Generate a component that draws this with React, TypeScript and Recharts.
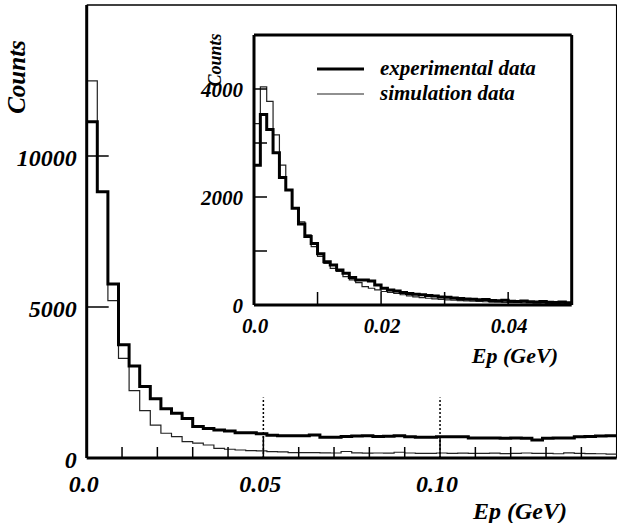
import React from 'react'
import { LineChart, Line, XAxis, YAxis, ReferenceLine } from 'recharts'

// main histogram: 50 bins of 0.003 GeV
const mainBinWidth = 0.003
const mainExp = [
  11130, 8820, 5760, 3750, 3050, 2370, 1960, 1630, 1480, 1310,
  1040, 980, 930, 890, 840, 840, 800, 750, 740, 740,
  740, 760, 690, 690, 710, 730, 740, 710, 720, 740,
  700, 690, 690, 700, 700, 700, 660, 660, 660, 650,
  660, 650, 600, 650, 660, 660, 700, 710, 730, 740,
]
const mainSim = [
  12490, 8800, 5210, 3300, 2230, 1570, 1090, 820, 710, 540,
  490, 430, 320, 290, 265, 245, 235, 210, 200, 180,
  180, 175, 170, 165, 215, 170, 160, 165, 160, 190,
  165, 150, 155, 165, 150, 160, 150, 155, 160, 145,
  150, 165, 150, 155, 140, 170, 150, 145, 140, 130,
]

// inset histogram: 50 bins of 0.001 GeV
const insetBinWidth = 0.001
const insetExp = [
  2590, 3530, 3250, 2820, 2360, 2130, 1790, 1500, 1270, 1140,
  950, 800, 740, 650, 590, 510, 465, 465, 445, 370,
  310, 280, 260, 230, 215, 200, 190, 175, 165, 150,
  145, 130, 120, 110, 105, 95, 100, 85, 80, 90,
  70, 65, 75, 60, 55, 65, 50, 45, 55, 40,
]
const insetSim = [
  3360, 4040, 3770, 3150, 2590, 2130, 1790, 1540, 1300, 1080,
  900, 770, 680, 620, 525, 465, 415, 340, 310, 280,
  250, 235, 215, 190, 170, 150, 135, 125, 115, 105,
  95, 90, 80, 75, 70, 65, 60, 55, 55, 50,
  45, 45, 40, 40, 35, 35, 30, 30, 30, 25,
]

const mainXTicks = [0, 0.01, 0.02, 0.03, 0.04, 0.05, 0.06, 0.07, 0.08, 0.09, 0.1, 0.11, 0.12, 0.13, 0.14]
const mainXLabels = [{ v: 0, t: '0.0' }, { v: 0.05, t: '0.05' }, { v: 0.1, t: '0.10' }]
const mainYTicks = [0, 5000, 10000]
const mainDotted = [0.05, 0.1]

const insetXTicks = [0, 0.01, 0.02, 0.03, 0.04]
const insetXLabels = [{ v: 0, t: '0.0' }, { v: 0.02, t: '0.02' }, { v: 0.04, t: '0.04' }]
const insetYTicks = [0, 1000, 2000, 3000, 4000]
const insetYLabels = [0, 2000, 4000]

const toRows = (exp: number[], sim: number[], w: number) => {
  const rows = exp.map((v, i) => ({ x: +(i * w).toFixed(4), exp: v, sim: sim[i] }))
  rows.push({ x: +(exp.length * w).toFixed(4), exp: exp[exp.length - 1], sim: sim[sim.length - 1] })
  return rows
}
const mainData = toRows(mainExp, mainSim, mainBinWidth)
const insetData = toRows(insetExp, insetSim, insetBinWidth)

const serif = (size: number): React.CSSProperties => ({
  fontFamily: '"Liberation Serif", "DejaVu Serif", serif',
  fontWeight: 'bold',
  fontStyle: 'italic',
  fontSize: size,
  fill: '#000',
})

const near = (a: number, b: number) => Math.abs(a - b) < 1e-9

function MainXTick({ x, y, payload }: any) {
  const v = payload.value
  const label = mainXLabels.find(l => near(l.v, v))
  const major = mainXLabels.some(l => near(l.v, v) && v > 0)
  return (
    <g>
      {v > 0 && <line x1={x} x2={x} y1={y} y2={y - (major ? 22 : 11)} stroke="#000" strokeWidth={1.5} />}
      {label && <text x={x - 3} y={y + 34} textAnchor="middle" style={serif(24)}>{label.t}</text>}
    </g>
  )
}

function MainYTick({ x, y, payload }: any) {
  const v = payload.value
  return (
    <g>
      {v > 0 && <line x1={x} x2={x + 22} y1={y} y2={y} stroke="#000" strokeWidth={1.5} />}
      <text x={x - 10} y={y + 10} textAnchor="end" style={serif(24)}>{v}</text>
    </g>
  )
}

function InsetXTick({ x, y, payload }: any) {
  const v = payload.value
  const label = insetXLabels.find(l => near(l.v, v))
  return (
    <g>
      {v > 0 && <line x1={x} x2={x} y1={y} y2={y - 13} stroke="#000" strokeWidth={1.5} />}
      {label && <text x={x + 1} y={y + 28} textAnchor="middle" style={serif(21)}>{label.t}</text>}
    </g>
  )
}

function InsetYTick({ x, y, payload }: any) {
  const v = payload.value
  return (
    <g>
      {v > 0 && <line x1={x} x2={x + 13} y1={y} y2={y} stroke="#000" strokeWidth={1.5} />}
      {insetYLabels.includes(v) && (
        <text x={x - 11} y={y + 8} textAnchor="end" style={serif(21)}>{v}</text>
      )}
    </g>
  )
}

export default function App() {
  return (
    <div style={{ position: 'absolute', left: 0, top: 0, width: 617, height: 523, background: '#fff' }}>
      <div style={{ position: 'absolute', left: 0, top: 0 }}>
        <LineChart width={617} height={523} data={mainData} margin={{ top: 5, right: 0.3, bottom: 35, left: 26.7 }}>
          <XAxis
            dataKey="x"
            type="number"
            domain={[0, 0.15]}
            ticks={mainXTicks}
            interval={0}
            height={30}
            tickSize={0}
            tickMargin={0}
            tickLine={false}
            tick={<MainXTick />}
            axisLine={{ stroke: '#000', strokeWidth: 3 }}
          />
          <YAxis
            type="number"
            domain={[0, 15000]}
            ticks={mainYTicks}
            interval={0}
            width={60}
            tickSize={0}
            tickMargin={0}
            tickLine={false}
            tick={<MainYTick />}
            axisLine={{ stroke: '#000', strokeWidth: 3 }}
          />
          <ReferenceLine y={15000} stroke="#000" strokeWidth={1.5} />
          <ReferenceLine x={0.15} stroke="#000" strokeWidth={1.5} />
          {mainDotted.map(d => (
            <ReferenceLine
              key={d}
              segment={[{ x: d, y: 0 }, { x: d, y: 2000 }]}
              stroke="#000"
              strokeWidth={1.5}
              strokeDasharray="2 2"
            />
          ))}
          <Line type="stepAfter" dataKey="sim" stroke="#222" strokeWidth={1.2} dot={false} isAnimationActive={false} />
          <Line type="stepAfter" dataKey="exp" stroke="#000" strokeWidth={3} dot={false} isAnimationActive={false} />
        </LineChart>
      </div>

      <div style={{ position: 'absolute', left: 190, top: 25 }}>
        <LineChart width={400} height={350} data={insetData} margin={{ top: 10, right: 18.3, bottom: 40, left: 14 }}>
          <XAxis
            dataKey="x"
            type="number"
            domain={[0, 0.05]}
            ticks={insetXTicks}
            interval={0}
            height={30}
            tickSize={0}
            tickMargin={0}
            tickLine={false}
            tick={<InsetXTick />}
            axisLine={{ stroke: '#000', strokeWidth: 3 }}
          />
          <YAxis
            type="number"
            domain={[0, 5000]}
            ticks={insetYTicks}
            interval={0}
            width={50}
            tickSize={0}
            tickMargin={0}
            tickLine={false}
            tick={<InsetYTick />}
            axisLine={{ stroke: '#000', strokeWidth: 3 }}
          />
          <ReferenceLine y={5000} stroke="#000" strokeWidth={3} />
          <ReferenceLine x={0.05} stroke="#000" strokeWidth={3} />
          <Line type="stepAfter" dataKey="sim" stroke="#222" strokeWidth={1.2} dot={false} isAnimationActive={false} />
          <Line type="stepAfter" dataKey="exp" stroke="#000" strokeWidth={3} dot={false} isAnimationActive={false} />
        </LineChart>
      </div>

      <svg width={617} height={523} style={{ position: 'absolute', left: 0, top: 0, pointerEvents: 'none' }}>
        <text transform="translate(25,77) rotate(-90)" textAnchor="middle" style={serif(25)}>Counts</text>
        <text x={567} y={519} textAnchor="end" style={serif(24)}>Ep (GeV)</text>

        <text transform="translate(221,60) rotate(-90)" textAnchor="middle" style={serif(18)}>Counts</text>
        <text x={558} y={363} textAnchor="end" style={serif(22)}>Ep (GeV)</text>

        <line x1={317} x2={364} y1={69} y2={69} stroke="#000" strokeWidth={3} />
        <text x={380} y={75} style={serif(21)}>experimental data</text>
        <line x1={317} x2={364} y1={94} y2={94} stroke="#222" strokeWidth={1.2} />
        <text x={380} y={100} style={serif(21)}>simulation data</text>
      </svg>
    </div>
  )
}
